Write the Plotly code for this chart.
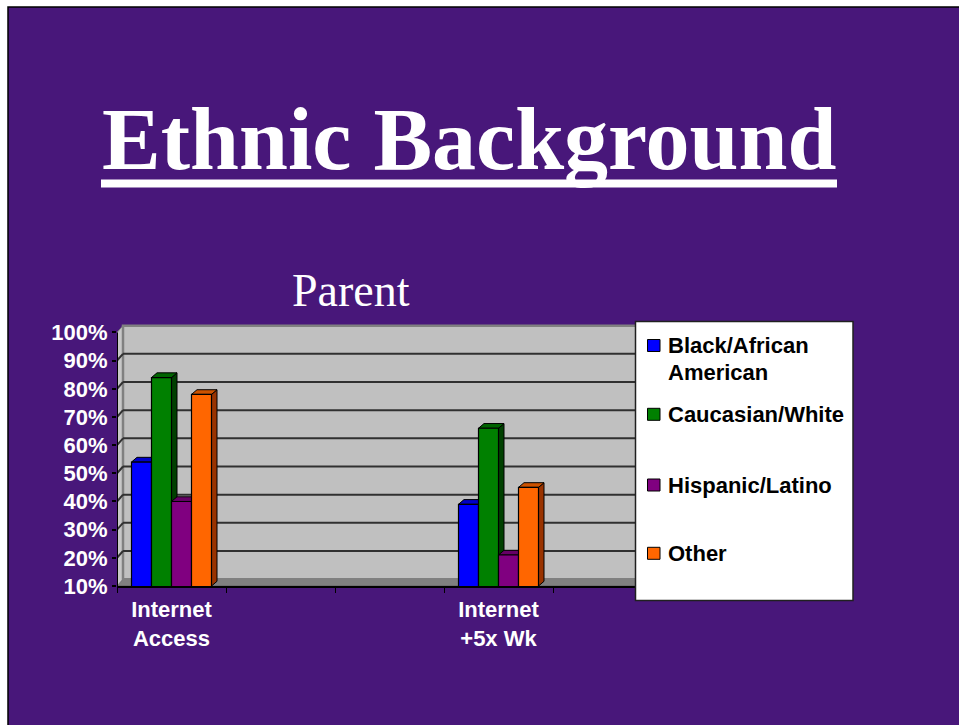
import plotly.graph_objects as go

# ---- data -------------------------------------------------------------
categories = ["Internet<br>Access", "Internet<br>+5x Wk"]
category_slots = [0, 3]          # slot index of each category on a 6-slot axis
n_slots = 6

series_names = ["Black/African<br>American", "Caucasian/White", "Hispanic/Latino", "Other"]
black_african = [54, 39]
caucasian_white = [84, 66]
hispanic_latino = [40, 21]
other = [78, 45]
series_values = [black_african, caucasian_white, hispanic_latino, other]

y_ticks = [10, 20, 30, 40, 50, 60, 70, 80, 90, 100]
y_ticktext = [f"{v}%" for v in y_ticks]

# ---- styling ----------------------------------------------------------
front_colors = ["#0000FF", "#008000", "#800080", "#FF6600"]
top_colors = ["#0000C8", "#006400", "#660066", "#CC5200"]
side_colors = ["#000090", "#004000", "#440044", "#993300"]

W, H = 959, 725
L, R, T, B = 117, 188, 324, 139          # plot-area margins (px)
Y0, Y1 = 10, 103
X0, X1 = -0.5, n_slots - 0.5
plot_w = W - L - R
plot_h = H - T - B
px_per_x = plot_w / (X1 - X0)
px_per_y = plot_h / (Y1 - Y0)

bar_w = 20 / px_per_x                    # width of one column
bar_dx = 5.5 / px_per_x                  # column depth (x shift)
bar_dy = 4.7 / px_per_y                  # column depth (y shift)
wall_dx = 6.0 / px_per_x                 # wall depth
wall_dy = 6.8 / px_per_y


def paper_x(px):
    return (px - L) / plot_w


def paper_y(py):
    return (H - B - py) / plot_h


fig = go.Figure()
shapes = []

# slide background with its frame
shapes.append(dict(type="rect", xref="paper", yref="paper",
                   x0=paper_x(8), x1=paper_x(W + 5), y0=paper_y(H + 5), y1=paper_y(7),
                   fillcolor="#48177A", line=dict(color="black", width=1.5), layer="below"))

# 3-D box: floor, left wall, back wall
shapes.append(dict(type="path", layer="below",
                   path=f"M {X0},{Y0} L {X1},{Y0} L {X1 + wall_dx},{Y0 + wall_dy} L {X0 + wall_dx},{Y0 + wall_dy} Z",
                   fillcolor="#808080", line=dict(color="#606060", width=1)))
shapes.append(dict(type="path", layer="below",
                   path=f"M {X0},{Y0} L {X0},{100} L {X0 + wall_dx},{100 + wall_dy} L {X0 + wall_dx},{Y0 + wall_dy} Z",
                   fillcolor="#C8C8C8", line=dict(color="#808080", width=1)))
shapes.append(dict(type="rect", layer="below",
                   x0=X0 + wall_dx, x1=X1 + wall_dx, y0=Y0 + wall_dy, y1=100 + wall_dy,
                   fillcolor="#C0C0C0", line=dict(color="#808080", width=2.5)))

# gridlines on the side wall and the back wall
for t in y_ticks[1:-1]:
    shapes.append(dict(type="line", layer="below", x0=X0, y0=t, x1=X0 + wall_dx, y1=t + wall_dy,
                       line=dict(color="#303030", width=2)))
    shapes.append(dict(type="line", layer="below", x0=X0 + wall_dx, y0=t + wall_dy, x1=X1 + wall_dx, y1=t + wall_dy,
                       line=dict(color="#303030", width=2)))

# front-left edge of the box
shapes.append(dict(type="line", layer="below", x0=X0, y0=Y0, x1=X0, y1=100,
                   line=dict(color="black", width=2)))

# column tops and right-hand sides (fronts are the bar traces above them)
for i, vals in enumerate(series_values):
    off = -2 * bar_w + i * bar_w
    for slot, v in zip(category_slots, vals):
        xl = slot + off
        xr = xl + bar_w
        shapes.append(dict(type="path", layer="below",
                           path=f"M {xr},{Y0} L {xr + bar_dx},{Y0 + bar_dy} L {xr + bar_dx},{v + bar_dy} L {xr},{v} Z",
                           fillcolor=side_colors[i], line=dict(color="black", width=1)))
        shapes.append(dict(type="path", layer="below",
                           path=f"M {xl},{v} L {xr},{v} L {xr + bar_dx},{v + bar_dy} L {xl + bar_dx},{v + bar_dy} Z",
                           fillcolor=top_colors[i], line=dict(color="black", width=1)))

for i, vals in enumerate(series_values):
    fig.add_trace(go.Bar(
        x=category_slots, y=vals, name=series_names[i],
        width=bar_w, offset=-2 * bar_w + i * bar_w,
        marker=dict(color=front_colors[i], line=dict(color="black", width=1.2)),
        showlegend=False,
    ))

# title underline
shapes.append(dict(type="line", xref="paper", yref="paper",
                   x0=paper_x(101), x1=paper_x(837), y0=paper_y(183.5), y1=paper_y(183.5),
                   line=dict(color="white", width=8), layer="above"))

# legend box
shapes.append(dict(type="rect", xref="paper", yref="paper", layer="above",
                   x0=paper_x(635.5), x1=paper_x(853), y0=paper_y(600.5), y1=paper_y(321.5),
                   fillcolor="white", line=dict(color="#202020", width=1.5)))

annotations = []
legend_rows = [345.5, 414.3, 485, 553.3]
for i, name in enumerate(series_names):
    yc = legend_rows[i]
    shapes.append(dict(type="rect", xref="paper", yref="paper", layer="above",
                       x0=paper_x(647.5), x1=paper_x(660), y0=paper_y(yc + 6), y1=paper_y(yc - 6),
                       fillcolor=front_colors[i], line=dict(color="black", width=1)))
    lines = name.split("<br>")
    for k, line in enumerate(lines):
        annotations.append(dict(xref="paper", yref="paper", x=paper_x(666), y=paper_y(yc + k * 26.7),
                                xanchor="left", yanchor="middle", showarrow=False, text=line,
                                font=dict(family="Liberation Sans", size=22, color="black", weight="bold")))

# slide title and chart title
annotations.append(dict(xref="paper", yref="paper", x=paper_x(469), y=paper_y(140),
                        xanchor="center", yanchor="middle", showarrow=False, text="Ethnic Background",
                        font=dict(family="Liberation Serif", size=88, color="white", weight="bold")))
annotations.append(dict(xref="paper", yref="paper", x=paper_x(351), y=paper_y(290),
                        xanchor="center", yanchor="middle", showarrow=False, text="Parent",
                        font=dict(family="Liberation Serif", size=46, color="white")))

fig.update_layout(
    width=W, height=H,
    margin=dict(l=L, r=R, t=T, b=B, pad=0),
    paper_bgcolor="white",
    plot_bgcolor="rgba(0,0,0,0)",
    barmode="overlay",
    shapes=shapes,
    annotations=annotations,
    showlegend=False,
    xaxis=dict(range=[X0, X1], tickmode="array", tickvals=category_slots, ticktext=categories,
               ticks="", showgrid=False, zeroline=False, ticklabelstandoff=3,
               showline=True, linecolor="black", linewidth=2,
               tickfont=dict(family="Liberation Sans", size=22, color="white", weight="bold"),
               minor=dict(tickmode="linear", tick0=-0.5, dtick=1, ticks="outside",
                          ticklen=5, tickwidth=1, tickcolor="black", showgrid=False)),
    yaxis=dict(range=[Y0, Y1], tickmode="array", tickvals=y_ticks, ticktext=y_ticktext,
               ticks="outside", ticklen=4, tickwidth=1.5, tickcolor="black",
               showgrid=False, zeroline=False, showline=False,
               tickfont=dict(family="Liberation Sans", size=22, color="white", weight="bold")),
)

fig.write_html("out.html")
